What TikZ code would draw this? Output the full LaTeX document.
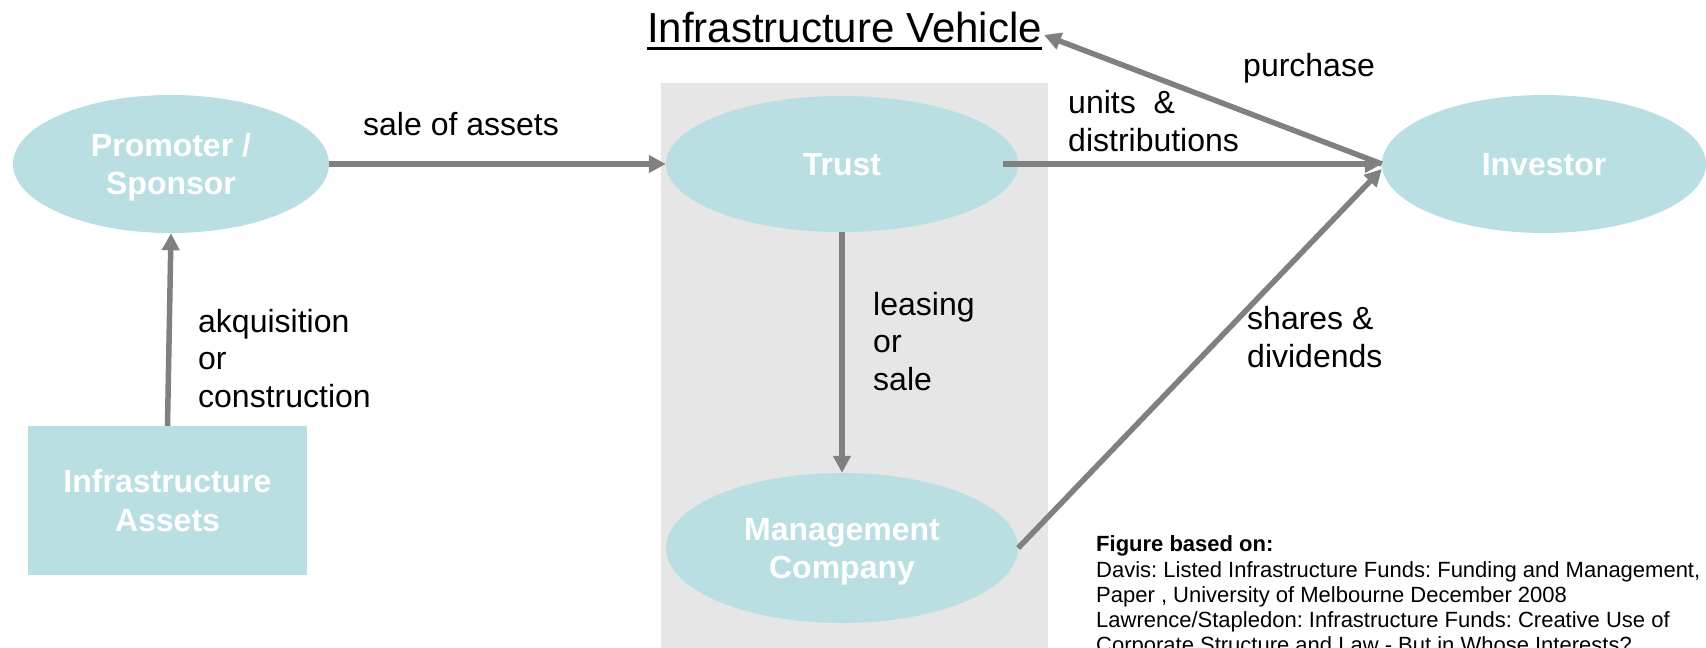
\documentclass[tikz,border=0pt]{standalone}
\usepackage{fontspec}
\setmainfont{Liberation Sans}
\frenchspacing
\usetikzlibrary{arrows.meta,positioning,shapes.geometric,backgrounds}
\definecolor{flowGrey}   {HTML}{808080}
\definecolor{entityFill} {HTML}{B9DFE2}
\definecolor{vehicleFill}{HTML}{E6E6E6}
\tikzset{
  >={Triangle[length=17pt,width=17pt]},
  entity/.style={ellipse,fill=entityFill,draw=none,inner sep=0pt,
                 font=\fontsize{32}{38}\selectfont\bfseries,text=white,
                 text depth=0pt,align=center},
  assetBox/.style={rectangle,fill=entityFill,draw=none,inner sep=0pt,
                   minimum width=279pt,minimum height=149pt,
                   font=\fontsize{32}{39}\selectfont\bfseries,text=white,
                   text depth=0pt,align=center},
  flow/.style={->,line width=5.5pt,flowGrey},
  % multi-line labels sit on the baseline of their last line
  flowLabel/.style={font=\fontsize{32}{37.5}\selectfont,align=left,
                    inner sep=0pt,anchor=base west},
  refText/.style={font=\fontsize{22}{25}\selectfont,align=left,
                  inner sep=0pt,anchor=base west},
}

\begin{document}
\begin{tikzpicture}[x=1pt,y=-1pt]
\useasboundingbox (0,0) rectangle (1706,648);

% Grey backdrop of the vehicle, holding trust and management company.
\fill[vehicleFill] (661,83) rectangle (1048,660);

\node[font=\fontsize{42}{48}\selectfont,inner sep=0pt,anchor=base west]
  (vehicleTitle) at (647,42) {Infrastructure Vehicle};
\draw[line width=3pt]
  ([yshift=-6.5pt]vehicleTitle.base west) -- ([yshift=-6.5pt]vehicleTitle.base east);

% Parties.
\node[entity,minimum width=316pt,minimum height=138pt]
      (promoter) at (171,164) {Promoter /\\Sponsor};
\node[entity,minimum width=352pt,minimum height=136pt]
      (trust) at (842,164) {Trust};
\node[entity,minimum width=324pt,minimum height=138pt]
      (investor) at (1544,164) {Investor};
\node[entity,minimum width=352pt,minimum height=150pt]
      (mgmtCo) at (842,548) {Management\\Company};
\node[assetBox] (assets) at (167.5,500.5) {Infrastructure\\Assets};

% Flows between them.
\draw[flow] (promoter.east) -- (trust.west);
\draw[flow] (assets.north) -- (promoter.south);
\draw[flow] (trust.south) -- (mgmtCo.north);
\draw[flow] ([xshift=-15pt]trust.east) -- (investor.west);
\draw[flow] (mgmtCo.east) -- ([yshift=-5pt]investor.west);
\draw[flow] (investor.west) -- ([xshift=2pt,yshift=7pt]vehicleTitle.base east);

\node[flowLabel] (saleLbl)   at (363,135)  {sale of assets};
\node[flowLabel] (acqLbl)    at (198,407)  {akquisition\\or\\construction};
\node[flowLabel] (leaseLbl)  at (873,390)  {leasing\\or\\sale};
\node[flowLabel] (unitsLbl)  at (1068,151) {units\ \ \&\\distributions};
\node[flowLabel] (purchLbl)  at (1243,76)  {purchase};
\node[flowLabel] (sharesLbl) at (1247,367) {shares \&\\dividends};

% Sources, running off the page edge.
\node[refText] (sources) at (1096,652)
  {\textbf{Figure based on:}\\[1pt]
   Davis: Listed Infrastructure Funds: Funding and Management, W\\
   Paper , University of Melbourne December 2008\\
   Lawrence/Stapledon: Infrastructure Funds: Creative Use of\\
   Corporate Structure and Law - But in Whose Interests?};

\end{tikzpicture}
\end{document}
